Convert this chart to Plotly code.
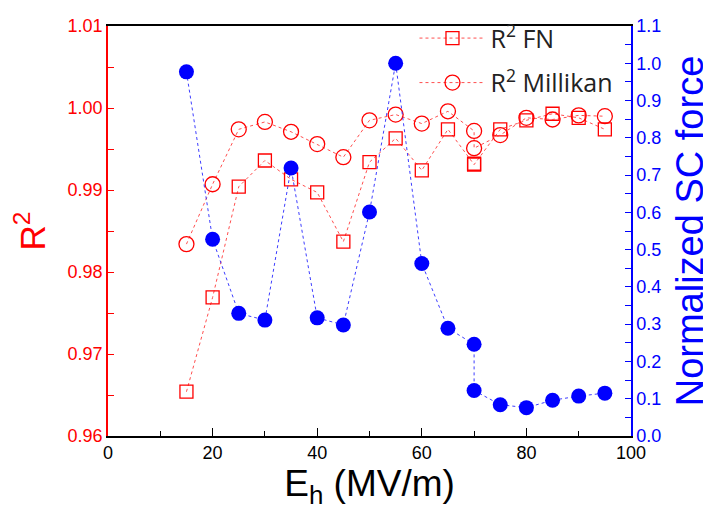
import plotly.graph_objects as go

# Data
E_h = [15, 20, 25, 30, 35, 40, 45, 50, 55, 60, 65, 70, 70, 75, 80, 85, 90, 95]
r2_fn = [0.9654, 0.9769, 0.9904, 0.9936, 0.9913, 0.9897, 0.9837, 0.9934, 0.9963,
         0.9924, 0.9974, 0.9932, 0.9931, 0.9974, 0.9985, 0.9993, 0.9988, 0.9974]
r2_millikan = [0.9834, 0.9907, 0.9974, 0.9983, 0.9971, 0.9956, 0.9940, 0.9985, 0.9992,
               0.9981, 0.9996, 0.9972, 0.9951, 0.9967, 0.9988, 0.9986, 0.9991, 0.9990]
sc_force = [0.977, 0.528, 0.329, 0.311, 0.719, 0.317, 0.298, 0.601, 1.000,
            0.463, 0.289, 0.246, 0.122, 0.084, 0.076, 0.096, 0.107, 0.115]

RED = "#ff0000"
LRED = "rgba(255,60,60,0.9)"
BLUE = "#0000ff"
tickfont = dict(family="Liberation Sans, Arial, sans-serif", size=18)

fig = go.Figure()
fig.add_trace(go.Scatter(
    x=E_h, y=r2_fn, name="R<sup>2</sup> FN", mode="lines+markers", legendgroup="fn",
    line=dict(color=LRED, width=1, dash="dot"),
    marker=dict(symbol="square-open", size=13, color=RED, line=dict(width=1.3, color=RED)),
    yaxis="y"))
fig.add_trace(go.Scatter(
    x=E_h, y=r2_millikan, name="R<sup>2</sup> Millikan", mode="lines+markers", legendgroup="mk",
    line=dict(color=LRED, width=1, dash="dot"),
    marker=dict(symbol="circle-open", size=15, color=RED, line=dict(width=1.3, color=RED)),
    yaxis="y"))
fig.add_trace(go.Scatter(
    x=E_h, y=sc_force, name="Normalized SC force", mode="lines+markers",
    line=dict(color="rgba(40,40,255,0.9)", width=1, dash="dot"),
    marker=dict(symbol="circle", size=15, color=BLUE),
    yaxis="y2", showlegend=False))

fig.update_layout(
    width=703, height=508,
    margin=dict(l=100, r=80, t=7, b=80),
    plot_bgcolor="white", paper_bgcolor="white",
    showlegend=True,
    legend=dict(x=0.586, y=1.026, xanchor="left", yanchor="top",
                bgcolor="rgba(0,0,0,0)", tracegroupgap=9, traceorder="grouped",
                font=dict(family="Open Sans, sans-serif", size=25, color="#222"),
                itemwidth=66),
    xaxis=dict(range=[0, 100], dtick=20, tick0=0, showline=True, linecolor="black",
               linewidth=1.5, mirror=True, ticks="inside", ticklen=8, tickcolor="black",
               minor=dict(ticks="inside", ticklen=5, dtick=10, tickcolor="black"),
               showgrid=False, zeroline=False, tickfont=dict(tickfont, color="black"),
               title=dict(text="E<sub>h</sub> (MV/m)",
                          font=dict(family="Liberation Sans, Arial, sans-serif", size=37, color="black"),
                          standoff=3)),
    yaxis=dict(range=[0.96, 1.01], dtick=0.01, tick0=0.96, tickformat=".2f",
               showline=True, linecolor=RED, linewidth=1.5, ticks="inside", ticklen=6,
               tickcolor=RED, minor=dict(ticks="inside", ticklen=6, dtick=0.005, tickcolor=RED),
               showgrid=False, zeroline=False, tickfont=dict(tickfont, color=RED),
               ticklabeloverflow="allow",
               title=dict(text="R<sup>2</sup>",
                          font=dict(family="Liberation Sans, Arial, sans-serif", size=35, color=RED),
                          standoff=12)),
    yaxis2=dict(range=[0, 1.1], dtick=0.1, tick0=0, tickformat=".1f", overlaying="y",
                side="right", showline=True, linecolor=BLUE, linewidth=1.5,
                ticks="inside", ticklen=6, tickcolor=BLUE, automargin=False,
                ticklabeloverflow="allow",
                minor=dict(ticks="inside", ticklen=6, dtick=0.05, tickcolor=BLUE),
                showgrid=False, zeroline=False, tickfont=dict(tickfont, color=BLUE),
                title=dict(text="Normalized SC force",
                           font=dict(family="Liberation Sans, Arial, sans-serif", size=38, color=BLUE),
                           standoff=17)),
)

fig.write_html("out.html")
